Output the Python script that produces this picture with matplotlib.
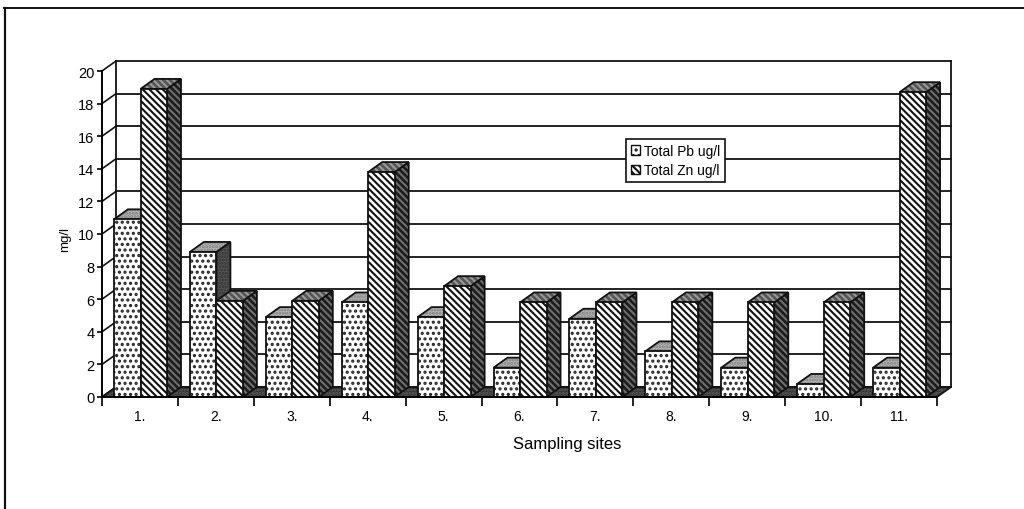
import matplotlib
matplotlib.use("Agg")
import matplotlib.pyplot as plt
from matplotlib.lines import Line2D
from matplotlib.patches import Patch, Polygon

plt.rcParams['font.family'] = ['Liberation Sans', 'DejaVu Sans']
plt.rcParams['hatch.linewidth'] = 1.5

sites = ['1.', '2.', '3.', '4.', '5.', '6.', '7.', '8.', '9.', '10.', '11.']
pb = [10.9, 8.9, 4.9, 5.8, 4.9, 1.8, 4.8, 2.8, 1.8, 0.8, 1.8]
zn = [18.9, 5.9, 5.9, 13.8, 6.8, 5.8, 5.8, 5.8, 5.8, 5.8, 18.7]
yticks = list(range(0, 21, 2))

DOTS = '.' * 3
FINE_DOTS = '.' * 5
DIAG = '\\' * 5

W, H = 1024, 510
fig = plt.figure(figsize=(W / 100, H / 100), dpi=100)
# front plane of the 3d box: x 102..937 px, y 398..72 px
ax = fig.add_axes([102 / W, 1 - 398 / H, 835 / W, 326 / H])
ax.set_xlim(0, len(sites))
ax.set_ylim(0, 20)
ax.patch.set_visible(False)

dx = 14 / (835 / 11)   # depth in data units
dy = 10 / (326 / 20)
bar_w = 26.5 / (835 / 11)
gap = 12 / (835 / 11)


def face(pts, fc, hatch_col=None, hatch=None, z=3):
    ax.add_patch(Polygon(pts, closed=True, facecolor=fc, edgecolor=hatch_col or fc,
                         hatch=hatch, lw=0, zorder=z, clip_on=False))
    ax.add_patch(Polygon(pts, closed=True, fill=False, edgecolor='#111111',
                         lw=1.3, zorder=z + 0.01, clip_on=False))


def bar3d(x, v, front, front_h, top, top_h, side, side_h, z):
    xr = x + bar_w
    face([(xr, 0), (xr + dx, dy), (xr + dx, v + dy), (xr, v)], side[0], side[1], side_h, z)
    face([(x, v), (xr, v), (xr + dx, v + dy), (x + dx, v + dy)], top[0], top[1], top_h, z + 0.02)
    face([(x, 0), (xr, 0), (xr, v), (x, v)], front[0], front[1], front_h, z + 0.04)


# back wall, left wall, floor
n = len(sites)
for t in yticks:
    ax.plot([dx, n + dx], [t + dy, t + dy], color='#111111', lw=1.3, zorder=1, clip_on=False)
    ax.plot([0, dx], [t, t + dy], color='#111111', lw=1.2, zorder=1, clip_on=False)
ax.plot([dx, dx], [dy, 20 + dy], color='#111111', lw=1.3, zorder=1, clip_on=False)
ax.plot([n + dx, n + dx], [dy, 20 + dy], color='#111111', lw=1.3, zorder=1, clip_on=False)
face([(0, 0), (n, 0), (n + dx, dy), (dx, dy)], '#333333', '#5c5c5c', FINE_DOTS, z=2)

for i in range(n):
    x0 = i + gap
    x1 = x0 + bar_w
    bar3d(x0, pb[i], ('white', '#222222'), DOTS, ('#b4b4b4', '#808080'), FINE_DOTS,
          ('#555555', '#333333'), FINE_DOTS, 3 + i)
    bar3d(x1, zn[i], ('white', '#111111'), DIAG, ('#555555', '#999999'), DIAG,
          ('#1c1c1c', '#6e6e6e'), DIAG, 3.5 + i)

ax.spines['top'].set_visible(False)
ax.spines['right'].set_visible(False)
for s in ['left', 'bottom']:
    ax.spines[s].set_linewidth(1.4)
    ax.spines[s].set_zorder(30)
ax.set_yticks(yticks)
ax.set_xticks(range(n + 1))
ax.set_xticklabels([])
ax.set_xticks([i + 0.5 for i in range(n)], minor=True)
ax.set_xticklabels(sites, minor=True)
ax.tick_params(axis='x', which='major', length=6.5, width=1.2)
ax.tick_params(axis='x', which='minor', length=0, pad=8.5, labelsize=10)
ax.tick_params(axis='y', length=3.5, width=1.2, pad=2, labelsize=10.5)

fig.text(567 / W, 1 - 445 / H, 'Sampling sites', ha='center', va='center', fontsize=12)
fig.text(65 / W, 1 - 240 / H, 'mg/l', ha='center', va='center', rotation=90, fontsize=9.5)

handles = [Patch(facecolor='white', edgecolor='#111111', hatch=DOTS, label='Total Pb ug/l'),
           Patch(facecolor='white', edgecolor='#111111', hatch=DIAG, label='Total Zn ug/l')]
leg = fig.legend(handles=handles, loc='upper left', bbox_to_anchor=(626 / W, 1 - 140 / H),
                 borderaxespad=0, fontsize=9.9, frameon=True, fancybox=False, framealpha=1,
                 edgecolor='#111111', handlelength=0.7, handleheight=0.7, handletextpad=0.25,
                 labelspacing=0.4, borderpad=0.35)
leg.get_frame().set_linewidth(1.2)
leg.set_zorder(40)

# page frame of the scan
fig.add_artist(Line2D([4.5 / W, 4.5 / W], [0, 1 - 9 / H], color='#111111', lw=1.6))
fig.add_artist(Line2D([4 / W, 1], [1 - 9 / H, 1 - 9 / H], color='#111111', lw=1.4))

fig.savefig('out.png', dpi=100)
